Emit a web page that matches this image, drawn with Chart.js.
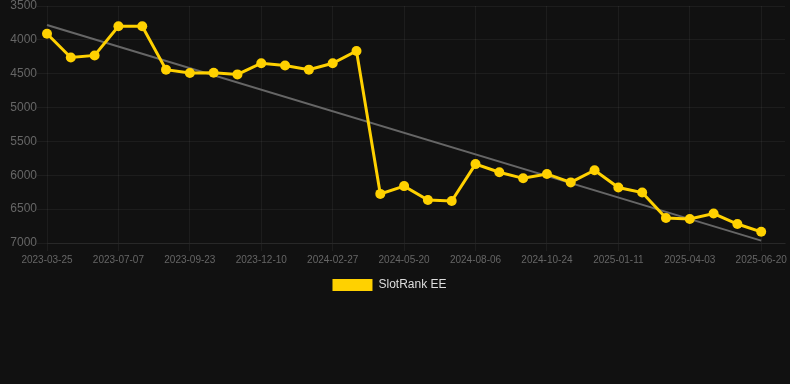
<!DOCTYPE html>
<html>
<head>
<meta charset="utf-8">
<script src="https://cdn.jsdelivr.net/npm/chart.js@4"></script>
<style>
  html, body { margin: 0; padding: 0; background: #111111; }
  #wrap { width: 790px; height: 301px; position: relative; }
</style>
</head>
<body>
<div id="wrap"><canvas id="graph"></canvas></div>
<script>
const dates = [
  '2023-03-25', '2023-04-28', '2023-06-02', '2023-07-07', '2023-08-02', '2023-08-28',
  '2023-09-23', '2023-10-19', '2023-11-14', '2023-12-10', '2024-01-05', '2024-02-01',
  '2024-02-27', '2024-03-25', '2024-04-22', '2024-05-20', '2024-06-15', '2024-07-11',
  '2024-08-06', '2024-09-01', '2024-09-28', '2024-10-24', '2024-11-19', '2024-12-16',
  '2025-01-11', '2025-02-07', '2025-03-08', '2025-04-03', '2025-04-29', '2025-05-25',
  '2025-06-20', '2025-07-16'
];

const ranks = [
  3910, 4260, 4230, 3800, 3800, 4440, 4490, 4485, 4510, 4345, 4380, 4440,
  4345, 4165, 6275, 6160, 6365, 6380, 5835, 5955, 6045, 5980, 6105, 5925,
  6180, 6255, 6630, 6645, 6565, 6720, 6835, null
];

// trend line end points
const trend = [3780].concat(new Array(29).fill(null), [6965, null]);

const yTicks = [3500, 4000, 4500, 5000, 5500, 6000, 6500, 7000];

const yellow = '#ffd100';
const gridColor = 'rgba(255,255,255,0.05)';

const ctx = document.getElementById('graph').getContext('2d');
const lineChart = new Chart(ctx, {
  type: 'line',
  data: {
    labels: dates,
    datasets: [
      {
        label: 'SlotRank EE',
        data: ranks,
        borderColor: yellow,
        backgroundColor: yellow,
        borderWidth: 3,
        pointRadius: 5,
        pointBackgroundColor: yellow,
        pointBorderWidth: 0,
        tension: 0,
      },
      {
        label: 'trend',
        data: trend,
        borderColor: '#666666',
        borderWidth: 2,
        pointRadius: 0,
        spanGaps: true,
      }
    ]
  },
  options: {
    responsive: true,
    maintainAspectRatio: false,
    animation: false,
    layout: { padding: { left: -11, right: 0, top: 0 } },
    scales: {
      x: {
        grid: {
          color: c => (c.index % 3 === 0 ? gridColor : 'transparent'),
          tickLength: 8,
        },
        border: { color: gridColor },
        ticks: {
          autoSkip: false,
          maxRotation: 0,
          padding: 3,
          color: '#666666',
          font: { family: 'Liberation Sans', size: 10 },
          callback: (v, i) => (i % 3 === 0 && i < 31 ? dates[i] : ''),
        }
      },
      y: {
        reverse: true,
        min: yTicks[0],
        max: yTicks[yTicks.length - 1],
        afterBuildTicks: axis => { axis.ticks = yTicks.map(v => ({ value: v })); },
        afterFit: axis => { axis.width = 58; },
        grid: { color: gridColor, tickLength: 10 },
        border: { display: false },
        ticks: {
          padding: 0,
          color: '#666666',
          font: { family: 'Liberation Sans', size: 12, lineHeight: 1 },
          callback: v => String(v),
        }
      },
    },
    plugins: {
      legend: {
        position: 'bottom',
        labels: {
          color: '#dddddd',
          boxWidth: 40,
          boxHeight: 12,
          font: { family: 'Liberation Sans', size: 12 },
          filter: item => {
            item.lineWidth = 0;
            return item.datasetIndex === 0;
          },
        }
      },
      tooltip: { enabled: false },
    },
  }
});
</script>
</body>
</html>
